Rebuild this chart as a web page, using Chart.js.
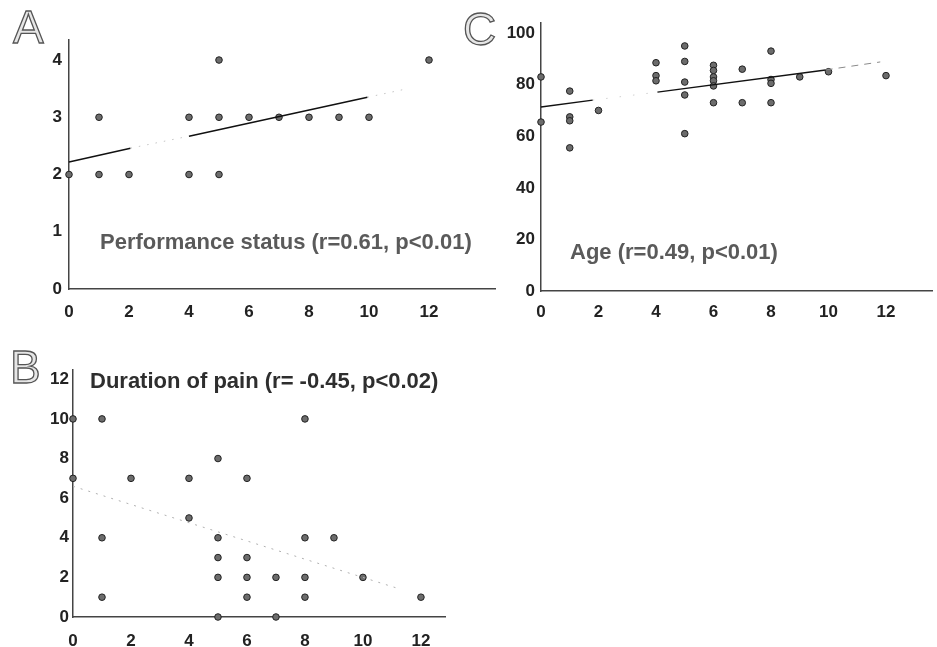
<!DOCTYPE html>
<html>
<head>
<meta charset="utf-8">
<script src="https://cdn.jsdelivr.net/npm/chart.js@4.4.1/dist/chart.umd.min.js"></script>
<style>
  body { margin: 0; background: #fff; width: 937px; height: 647px; overflow: hidden; position: relative; }
  canvas { position: absolute; }
</style>
</head>
<body>
<canvas id="chartA" width="500" height="330" style="left:0;top:0"></canvas>
<canvas id="chartC" width="482" height="330" style="left:455px;top:0"></canvas>
<canvas id="chartB" width="470" height="317" style="left:0;top:330px"></canvas>
<script>
// A: performance status
var aX = [0, 1, 1, 2, 4, 4, 5, 5, 5, 6, 7, 8, 9, 10, 12];
var aY = [2, 3, 2, 2, 3, 2, 4, 3, 2, 3, 3, 3, 3, 3, 4];
var aTrendX = [0, 2.05, 4, 9.95, 11.2];
var aTrendY = [2.22, 2.46, 2.67, 3.35, 3.49];

// C: age
var cX = [0, 0, 1, 1, 1, 1, 2, 4, 4, 4, 5, 5, 5, 5, 5, 6, 6, 6, 6, 6, 6, 7, 7, 8, 8, 8, 8, 9, 10, 12];
var cY = [83, 65.5, 77.5, 67.5, 66, 55.5, 70, 88.5, 83.5, 81.5, 95, 89, 81, 76, 61,
          87.5, 85.5, 83, 81.5, 79.5, 73, 86, 73, 93, 82, 80.5, 73, 83, 85, 83.5];
var cTrendX = [0, 1.8, 4.05, 9.9, 11.8];
var cTrendY = [71.3, 74.0, 77.1, 85.7, 88.8];

// B: duration of pain
var bX = [0, 0, 1, 1, 1, 2, 4, 4, 5, 5, 5, 5, 5, 6, 6, 6, 6, 7, 7, 8, 8, 8, 8, 9, 10, 12];
var bY = [10, 7, 10, 4, 1, 7, 7, 5, 8, 4, 3, 2, 0, 7, 3, 2, 1, 2, 0, 10, 4, 2, 1, 4, 2, 1];
var bTrendX = [0, 11.3];
var bTrendY = [6.6, 1.4];

var xTicks = [0, 2, 4, 6, 8, 10, 12];
var aTicks = [0, 1, 2, 3, 4];
var cTicks = [0, 20, 40, 60, 80, 100];
var bTicks = [0, 2, 4, 6, 8, 10, 12];

var FONT = '"Liberation Sans", Arial, sans-serif';

function pairs(xs, ys) {
  return xs.map(function (x, i) { return { x: x, y: ys[i] }; });
}

var panelText = {
  id: 'panelText',
  afterDraw: function (chart) {
    var o = chart.options.plugins.panelText;
    var ctx = chart.ctx;
    ctx.save();
    ctx.font = '46px ' + FONT;
    ctx.textBaseline = 'alphabetic';
    ctx.fillStyle = '#e6e6e6';
    ctx.strokeStyle = '#555';
    ctx.lineWidth = 1.3;
    ctx.fillText(o.letter, o.lx, o.ly);
    ctx.strokeText(o.letter, o.lx, o.ly);
    ctx.font = 'bold 22px ' + FONT;
    ctx.textBaseline = 'middle';
    ctx.fillStyle = o.color;
    ctx.fillText(o.note, o.nx, o.ny);
    ctx.restore();
  }
};

function makeChart(id, cfg) {
  // cfg.faint maps segment index -> [colour, dash] for the pale parts of the fit line
  var faint = cfg.faint;
  return new Chart(document.getElementById(id), {
    type: 'scatter',
    data: {
      datasets: [
        {
          type: 'line',
          data: pairs(cfg.tx, cfg.ty),
          showLine: true,
          pointRadius: 0,
          borderWidth: 1.5,
          borderColor: '#111',
          segment: {
            borderColor: function (c) { return faint[c.p0DataIndex] ? faint[c.p0DataIndex][0] : '#111'; },
            borderDash: function (c) { return faint[c.p0DataIndex] ? faint[c.p0DataIndex][1] : []; },
            borderWidth: function (c) { return faint[c.p0DataIndex] ? 1 : 1.5; }
          },
          clip: false
        },
        {
          data: pairs(cfg.x, cfg.y),
          pointRadius: 3.3,
          pointBackgroundColor: '#6c6c6c',
          pointBorderColor: '#222',
          pointBorderWidth: 1,
          clip: false
        }
      ]
    },
    options: {
      responsive: false,
      animation: false,
      layout: { padding: cfg.padding },
      plugins: {
        legend: { display: false },
        tooltip: { enabled: false },
        panelText: cfg.text
      },
      scales: {
        x: {
          type: 'linear',
          min: 0,
          max: cfg.xMax,
          grid: { display: false, drawTicks: false },
          border: { color: '#444', width: 1.5 },
          ticks: { stepSize: 2, padding: cfg.xPad, color: '#222', font: { family: FONT, size: 17, weight: 'bold' } },
          afterBuildTicks: function (s) { s.ticks = xTicks.map(function (v) { return { value: v }; }); },
          afterFit: function (s) { s.height = cfg.xHeight; }
        },
        y: {
          min: 0,
          max: cfg.yMax,
          grid: { display: false, drawTicks: false },
          border: { color: '#444', width: 1.5 },
          ticks: { padding: cfg.yPad, color: '#222', font: { family: FONT, size: 17, weight: 'bold' } },
          afterBuildTicks: function (s) { s.ticks = cfg.yTicks.map(function (v) { return { value: v }; }); },
          afterFit: function (s) { s.width = cfg.yWidth; }
        }
      }
    },
    plugins: [panelText]
  });
}

makeChart('chartA', {
  x: aX, y: aY, tx: aTrendX, ty: aTrendY,
  faint: { 1: ['#c4c4c4', [1.5, 7]], 3: ['#c4c4c4', [1.5, 7]] },
  xMax: 14.2, yMax: 4.35, yTicks: aTicks,
  padding: { top: 40, left: 0, right: 3, bottom: 0 },
  yWidth: 69, xHeight: 41, xPad: 13, yPad: 7,
  text: { letter: 'A', lx: 13, ly: 43, note: 'Performance status (r=0.61, p<0.01)', nx: 100, ny: 243, color: '#5a5a5a' }
});

makeChart('chartC', {
  x: cX, y: cY, tx: cTrendX, ty: cTrendY,
  faint: { 1: ['#d0d0d0', [1.5, 12]], 3: ['#8a8a8a', [7, 6]] },
  xMax: 13.6, yMax: 103.9, yTicks: cTicks,
  padding: { top: 23, left: 0, right: 0, bottom: 0 },
  yWidth: 86, xHeight: 39, xPad: 11, yPad: 6,
  text: { letter: 'C', lx: 8, ly: 45, note: 'Age (r=0.49, p<0.01)', nx: 115, ny: 253, color: '#5a5a5a' }
});

makeChart('chartB', {
  x: bX, y: bY, tx: bTrendX, ty: bTrendY,
  faint: { 0: ['#b0b0b0', [2, 6]] },
  xMax: 12.83, yMax: 12.47, yTicks: bTicks,
  padding: { top: 40, left: 0, right: 25, bottom: 0 },
  yWidth: 73, xHeight: 30, xPad: 14, yPad: 4,
  text: { letter: 'B', lx: 10, ly: 53, note: 'Duration of pain (r= -0.45, p<0.02)', nx: 90, ny: 52, color: '#2e2e2e' }
});
</script>
</body>
</html>
